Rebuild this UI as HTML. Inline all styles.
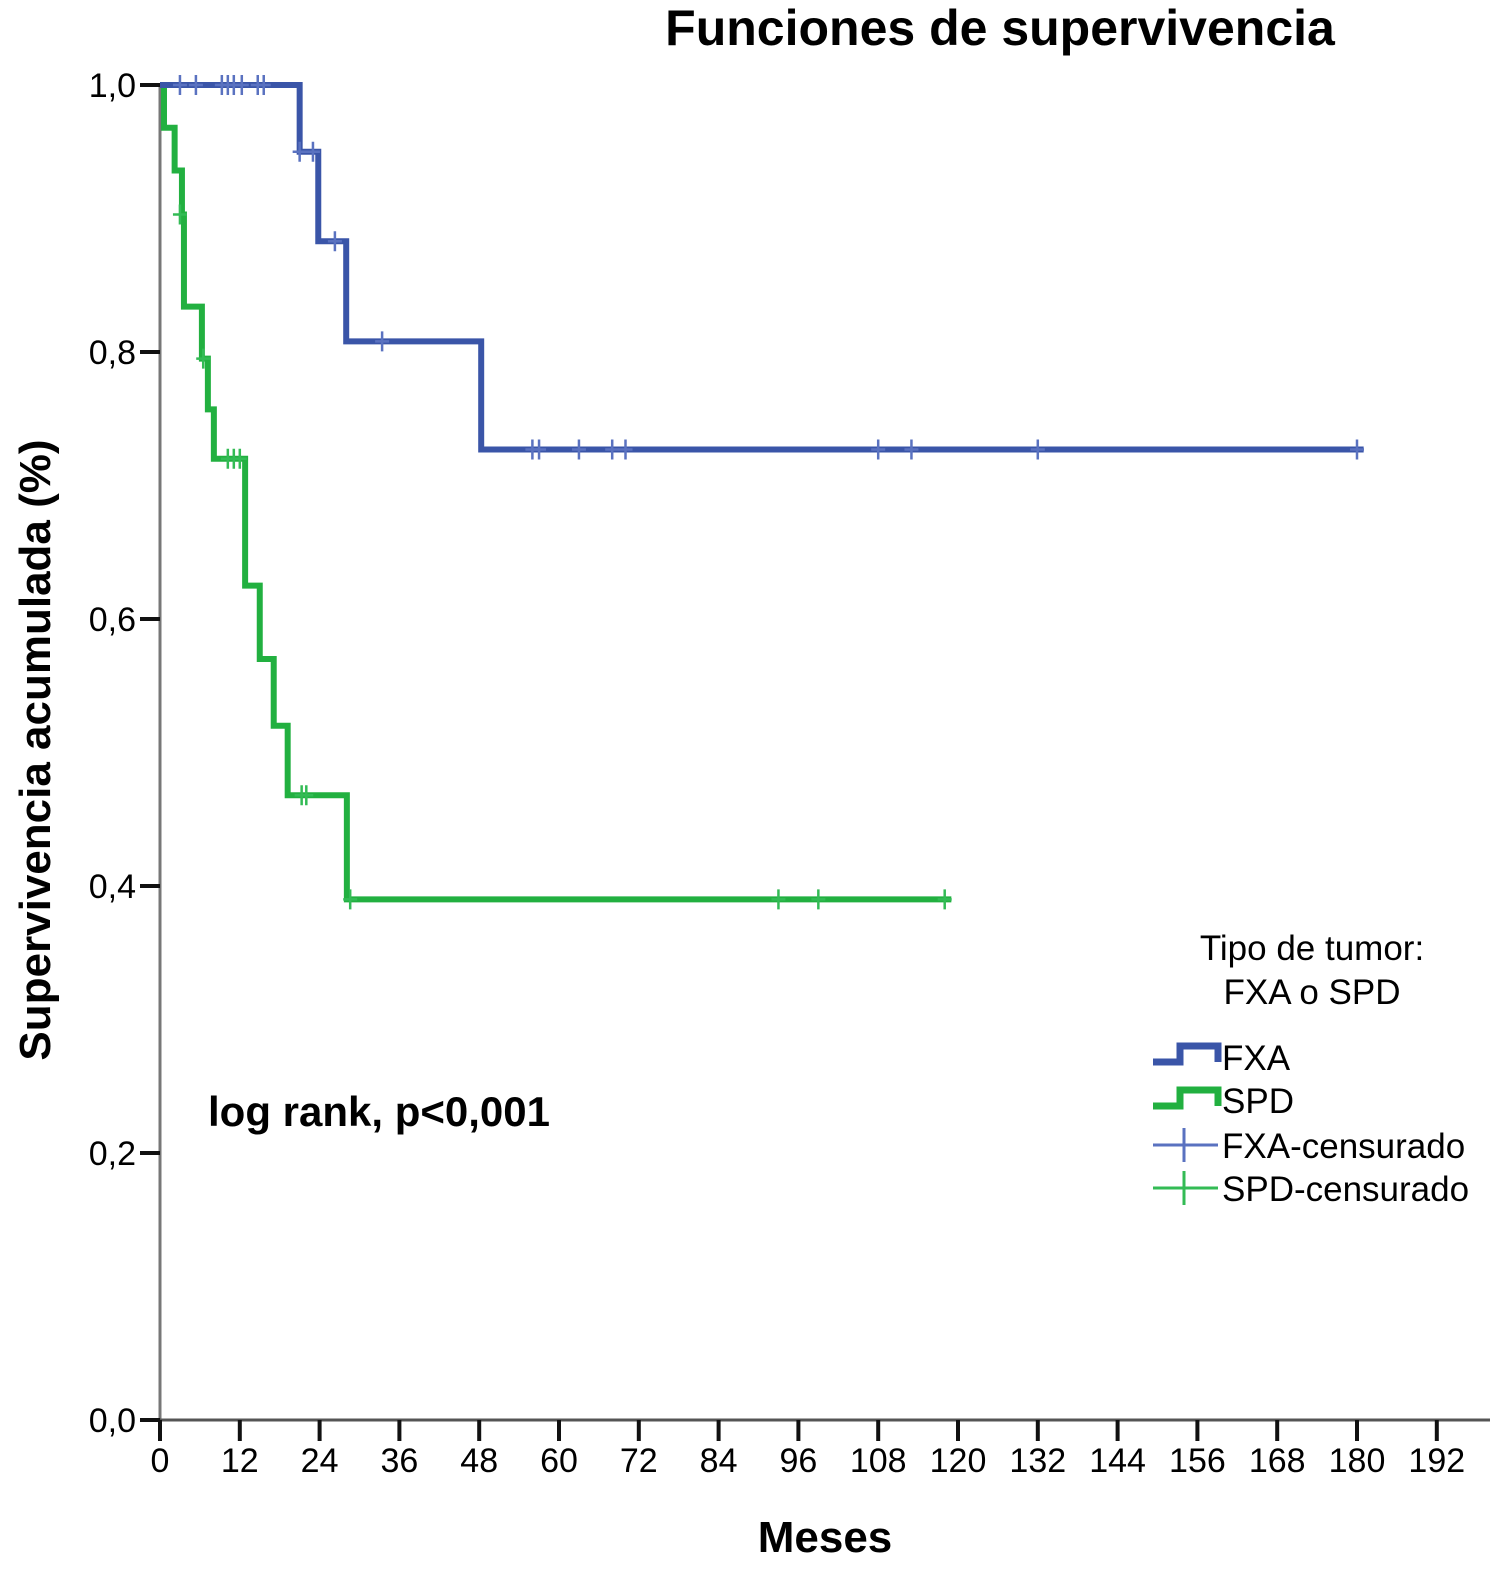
<!DOCTYPE html>
<html><head><meta charset="utf-8"><style>
body{margin:0;background:#fff;}
svg{display:block;font-family:"Liberation Sans",sans-serif;}
</style></head><body>
<svg id="chart" width="1500" height="1576" viewBox="0 0 1500 1576" xmlns="http://www.w3.org/2000/svg">
<text x="1000" y="45" font-size="50" font-weight="bold" text-anchor="middle">Funciones de supervivencia</text>
<text transform="translate(50,750) rotate(-90)" font-size="44" font-weight="bold" text-anchor="middle">Supervivencia acumulada (%)</text>
<text x="825" y="1552" font-size="44" font-weight="bold" text-anchor="middle">Meses</text>
<text x="208" y="1126" font-size="42" font-weight="bold">log rank, p&lt;0,001</text>
<g id="axes"></g>
<g id="series"></g>
<g font-size="35">
<text x="1312" y="960" text-anchor="middle">Tipo de tumor:</text>
<text x="1312" y="1004" text-anchor="middle">FXA o SPD</text>
<path d="M1153 1062 H1180 V1046 H1218 V1062" fill="none" stroke="#3a55a8" stroke-width="7"/>
<text x="1222" y="1070">FXA</text>
<path d="M1153 1106 H1180 V1090 H1218 V1106" fill="none" stroke="#22b040" stroke-width="7"/>
<text x="1222" y="1113">SPD</text>
<path d="M1153 1145 H1218 M1184 1128 V1162" stroke="#5a72c0" stroke-width="3"/>
<text x="1222" y="1158">FXA-censurado</text>
<path d="M1153 1188 H1218 M1184 1171 V1205" stroke="#33bb55" stroke-width="3"/>
<text x="1222" y="1201">SPD-censurado</text>
</g>
</svg>
<script>
const xTicks=[0,12,24,36,48,60,72,84,96,108,120,132,144,156,168,180,192];
const yTicks=[0,0.2,0.4,0.6,0.8,1.0];
const yTickLabels=["0,0","0,2","0,4","0,6","0,8","1,0"];
const fxaTimes=[0,21,23.8,28,48.3,181];
const fxaSurv=[1,0.95,0.883,0.808,0.727,0.727];
const fxaCensT=[3,5.4,9.3,10.2,11.1,12.3,14.7,15.6,21,23,26.3,33.4,56,57,63,68,70,108,113,132,180];
const fxaCensS=[1,1,1,1,1,1,1,1,0.95,0.95,0.883,0.808,0.727,0.727,0.727,0.727,0.727,0.727,0.727,0.727,0.727];
const spdTimes=[0,0.6,2.2,3.3,3.6,6.3,7.2,8.1,12.8,15,17.1,19.2,28.1,119];
const spdSurv=[1,0.968,0.936,0.903,0.834,0.795,0.757,0.72,0.625,0.57,0.52,0.468,0.39,0.39];
const spdCensT=[3,6.5,10.2,11.1,12,21.3,22,28.6,93,99,118];
const spdCensS=[0.903,0.795,0.72,0.72,0.72,0.468,0.468,0.39,0.39,0.39,0.39];
const X=m=>160+m*6.65;
const Y=v=>1420-v*1335;
const NS="http://www.w3.org/2000/svg";
const axes=document.getElementById('axes'), series=document.getElementById('series');
function mk(tag,attrs,parent){const e=document.createElementNS(NS,tag);for(const k in attrs)e.setAttribute(k,attrs[k]);parent.appendChild(e);return e;}
const yl=mk('line',{x1:160,y1:Y(1)-2,x2:160,y2:1420,stroke:'#777','stroke-width':3},axes);


const xl=mk('line',{x1:160,y1:1420,x2:1490,y2:1420,stroke:'#555','stroke-width':3},axes);


yTicks.forEach((v,i)=>{
 const t=mk('line',{x1:140,y1:Y(v),x2:160,y2:Y(v),stroke:'#111','stroke-width':4},axes);
 
 
 const l=mk('text',{x:136,y:Y(v)+12,'font-size':34,'text-anchor':'end'},axes);
 
 
 l.textContent=yTickLabels[i];
});
xTicks.forEach(m=>{
 const t=mk('line',{x1:X(m),y1:1420,x2:X(m),y2:1441,stroke:'#111','stroke-width':4},axes);
 
 
 const l=mk('text',{x:X(m),y:1472,'font-size':34,'text-anchor':'middle'},axes);
 
 
 l.textContent=m;
});
function step(times,surv,color,name){
 let d='M'+X(times[0])+' '+Y(surv[0]);
 for(let i=1;i<times.length;i++){d+=' H'+X(times[i])+' V'+Y(surv[i]);}
 const p=mk('path',{d:d,fill:'none',stroke:color,'stroke-width':6},series);
 
 
}
function cens(ts,ss,color,name){
 ts.forEach((t,i)=>{
  const c=mk('path',{d:'M'+(X(t)-7)+' '+Y(ss[i])+' H'+(X(t)+7)+' M'+X(t)+' '+(Y(ss[i])-10)+' V'+(Y(ss[i])+10),stroke:color,'stroke-width':2.5},series);
  
  
 });
}
step(spdTimes,spdSurv,'#22b040','spd-curve');
step(fxaTimes,fxaSurv,'#3a55a8','fxa-curve');
cens(spdCensT,spdCensS,'#33bb55','spd-censor-mark');
cens(fxaCensT,fxaCensS,'#5a72c0','fxa-censor-mark');
</script>
</body></html>
